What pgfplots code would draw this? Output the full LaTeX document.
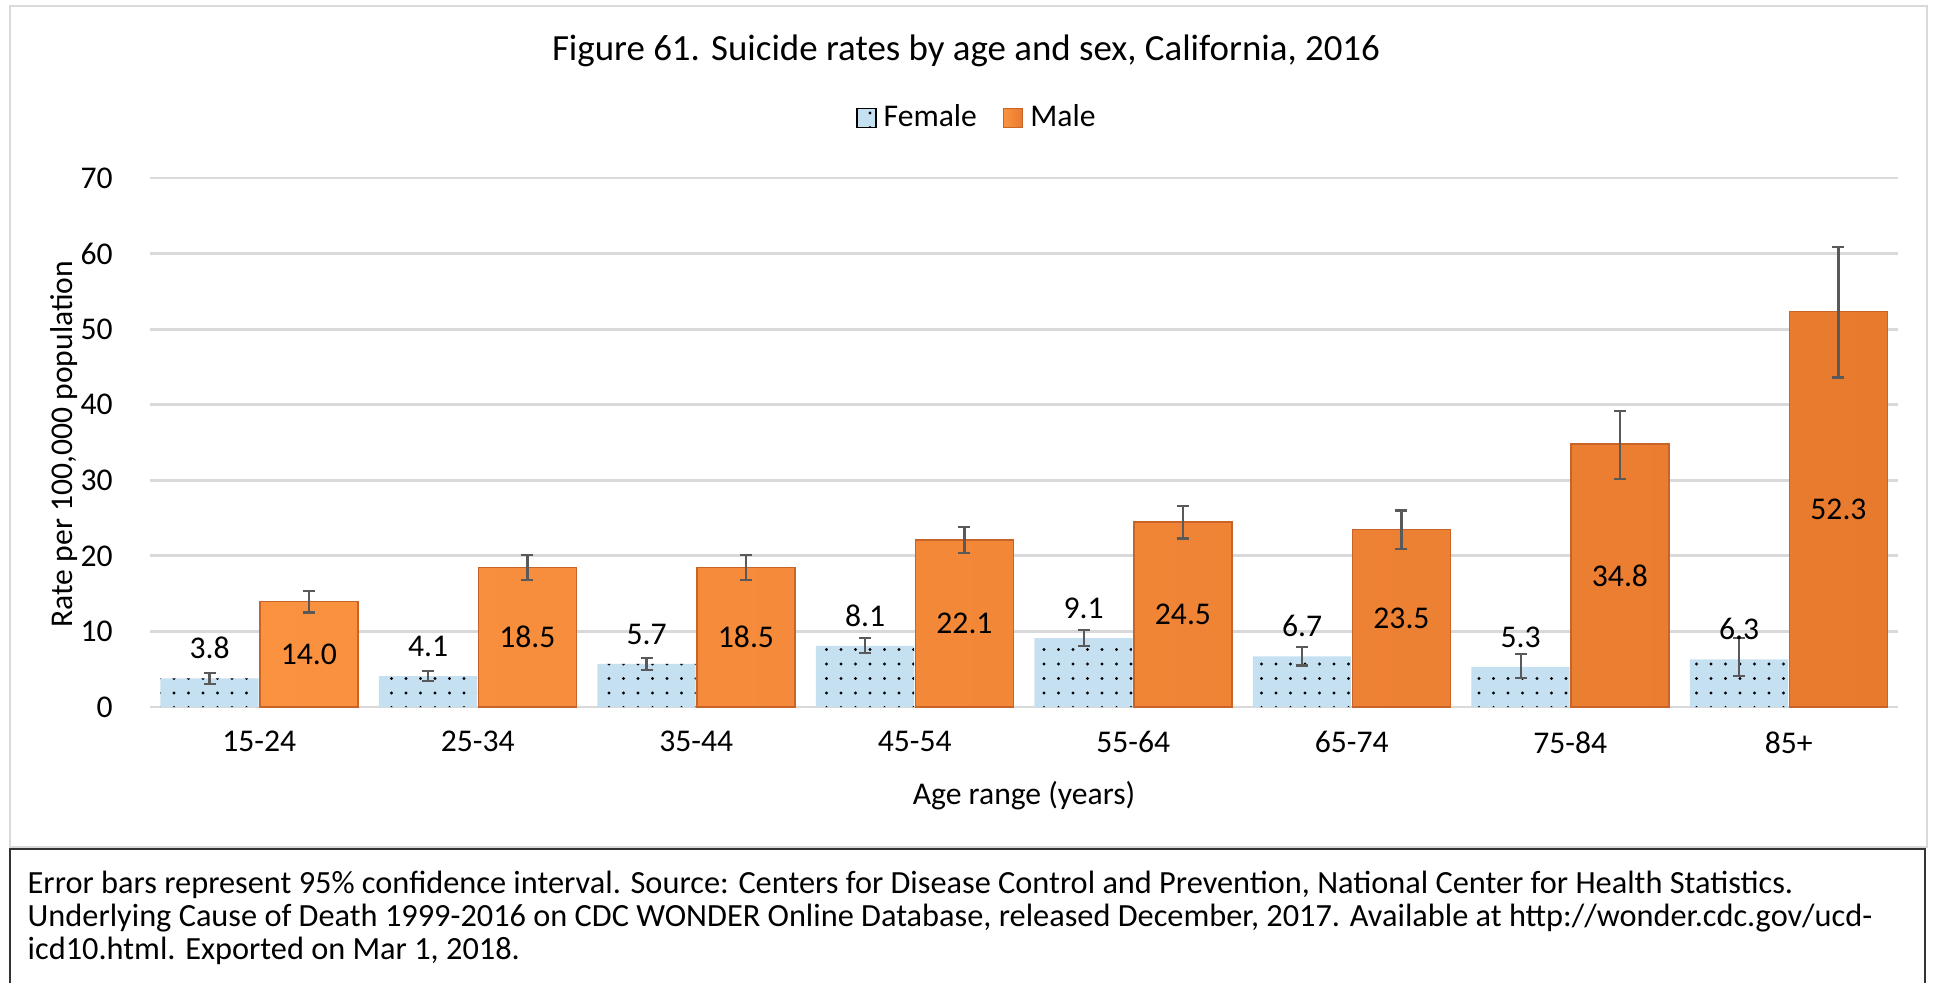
\documentclass[border=0pt]{standalone}
\usepackage{fontspec}
\setmainfont{Carlito}
\usepackage{pgfplots}
\pgfplotsset{compat=1.18}
\usepackage{pgfplotstable}
\usetikzlibrary{patterns.meta}

\definecolor{femfill}{RGB}{197,224,240}
\definecolor{maleL}{RGB}{250,146,64}
\definecolor{maleR}{RGB}{232,122,46}
\definecolor{maleedge}{RGB}{200,100,40}
\definecolor{errcol}{RGB}{89,89,89}
\definecolor{gridcol}{RGB}{217,217,217}

\pgfplotsset{
  sqlegend/.style={/pgfplots/legend image code/.code={\draw[##1] (0cm,-0.095cm) rectangle (0.19cm,0.095cm);}},
  cibars/.style={error bars/.cd, y dir=both, y explicit,
    error bar style={errcol, line width=0.6pt},
    error mark options={rotate=90, mark size=0.6mm, errcol, line width=0.6pt}},
}

% x: category index; f/m: rate; ep/em: CI plus/minus; fl/ml: label
\pgfplotstableread{
x f   fep fem fl  m    mep mem ml
0 3.8 0.7 0.7 3.8 14.0 1.3 1.5 14.0
1 4.1 0.7 0.6 4.1 18.5 1.6 1.7 18.5
2 5.7 0.8 0.8 5.7 18.5 1.6 1.7 18.5
3 8.1 1.0 1.0 8.1 22.1 1.7 1.7 22.1
4 9.1 1.1 1.0 9.1 24.5 2.1 2.2 24.5
5 6.7 1.2 1.2 6.7 23.5 2.5 2.6 23.5
6 5.3 1.7 1.5 5.3 34.8 4.4 4.6 34.8
7 6.3 2.8 2.2 6.3 52.3 8.6 8.7 52.3
}\data

\begin{document}
\begin{tikzpicture}
\path[use as bounding box] (0,0) rectangle (19.35,9.83);
% chart frame and note box
\draw[gridcol, line width=0.8pt] (0.1,1.36) rectangle (19.27,9.77);
\draw[black!80, line width=0.8pt] (0.1,0) -- (0.1,1.34) -- (19.25,1.34) -- (19.25,0);
\node[font=\fontsize{10.5}{12}\selectfont] at (9.66,9.32) {Figure 61. Suicide rates by age and sex, California, 2016};
\begin{scope}[every node/.style={anchor=west, inner sep=0pt, font=\fontsize{9.2}{11}\selectfont}]
\node at (0.27,0.98) {Error bars represent 95\% confidence interval. Source: Centers for Disease Control and Prevention, National Center for Health Statistics.};
\node at (0.27,0.65) {Underlying Cause of Death 1999-2016 on CDC WONDER Online Database, released December, 2017. Available at http://wonder.cdc.gov/ucd-};
\node at (0.27,0.32) {icd10.html. Exported on Mar 1, 2018.};
\end{scope}

\begin{axis}[
  at={(1.5cm,2.76cm)}, anchor=south west,
  scale only axis, width=17.48cm, height=5.29cm,
  xmin=-0.5, xmax=7.5, ymin=0, ymax=70,
  ytick={0,10,...,70},
  xtick={0,...,7},
  xticklabels={15-24,25-34,35-44,45-54,55-64,65-74,75-84,85+},
  axis line style={draw=none},
  tick style={draw=none},
  ymajorgrids, grid style={gridcol, line width=0.8pt},
  font=\fontsize{9}{11}\selectfont,
  /pgf/number format/assume math mode=true,
  yticklabel style={xshift=-0.25cm},
  xticklabel style={yshift=-0.12cm},
  xlabel={Age range (years)},
  ylabel={Rate per 100,000 population},
  xlabel style={at={(axis description cs:0.5,-0.168)}, anchor=center},
  ylabel style={at={(axis description cs:-0.049,0.497)}, anchor=center},
  legend columns=2,
  legend style={at={(axis description cs:0.4745,1.113)}, anchor=center, draw=none, fill=none,
    font=\fontsize{9}{11}\selectfont,
    /tikz/every even column/.append style={column sep=0.19cm}},
]
\addplot[ybar, bar width=0.45, bar shift=0pt, draw=none, fill=femfill,
  postaction={pattern={Dots[distance=1.45mm, radius=0.45pt]}},
  nodes near coords, point meta=explicit symbolic,
  every node near coord/.append style={font=\fontsize{9}{11}\selectfont, black, yshift=2pt},
  sqlegend, cibars]
  table[x expr=\thisrow{x}-0.2275, y=f, y error plus=fep, y error minus=fem, meta=fl] {\data};
\addlegendentry{Female}
\addplot[ybar, bar width=0.45, bar shift=0pt, draw=maleedge, line width=0.4pt,
  left color=maleL, right color=maleR,
  sqlegend, cibars]
  table[x expr=\thisrow{x}+0.2275, y=m, y error plus=mep, y error minus=mem] {\data};
\addlegendentry{Male}
% male value labels, centred in the bars
\addplot[forget plot, draw=none, mark=none, nodes near coords, point meta=explicit symbolic,
  every node near coord/.append style={anchor=center, font=\fontsize{9}{11}\selectfont, black}]
  table[x expr=\thisrow{x}+0.2275, y expr=\thisrow{m}/2, meta=ml] {\data};
\end{axis}
\end{tikzpicture}
\end{document}
